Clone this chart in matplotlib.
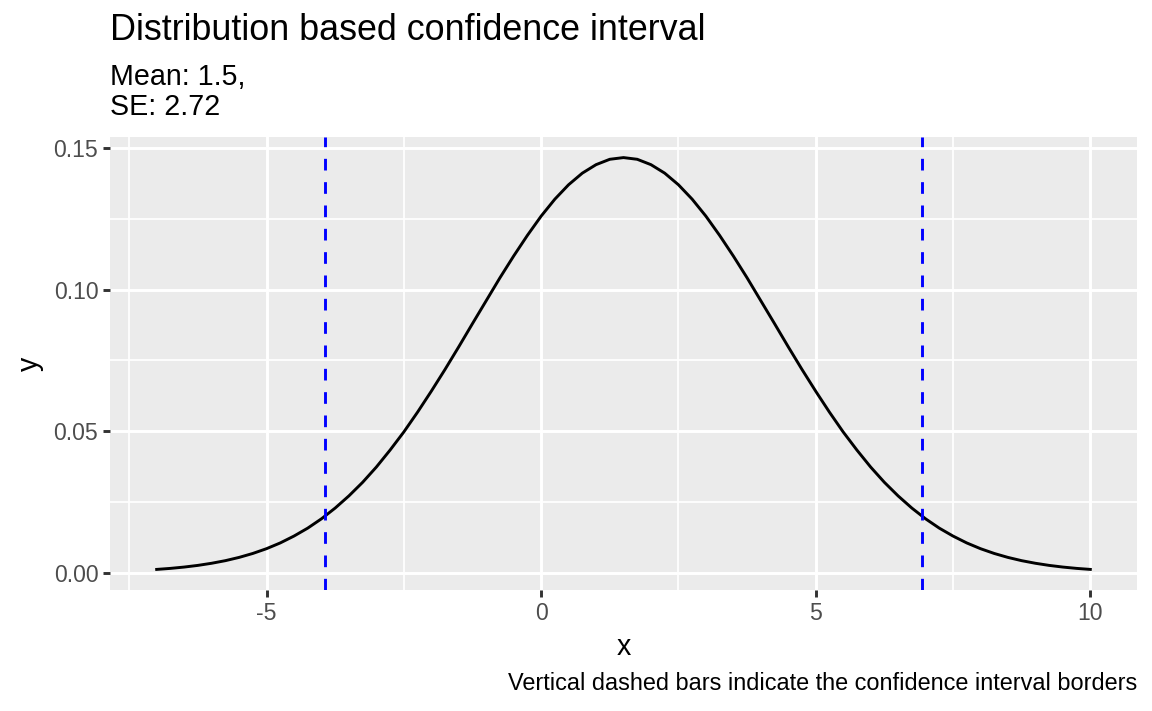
import matplotlib
matplotlib.use('Agg')
import matplotlib.pyplot as plt

x_vals = [-7.0, -6.75, -6.5, -6.25, -6.0, -5.75, -5.5, -5.25, -5.0, -4.75,
          -4.5, -4.25, -4.0, -3.75, -3.5, -3.25, -3.0, -2.75, -2.5, -2.25,
          -2.0, -1.75, -1.5, -1.25, -1.0, -0.75, -0.5, -0.25, 0.0, 0.25,
          0.5, 0.75, 1.0, 1.25, 1.5, 1.75, 2.0, 2.25, 2.5, 2.75,
          3.0, 3.25, 3.5, 3.75, 4.0, 4.25, 4.5, 4.75, 5.0, 5.25,
          5.5, 5.75, 6.0, 6.25, 6.5, 6.75, 7.0, 7.25, 7.5, 7.75,
          8.0, 8.25, 8.5, 8.75, 9.0, 9.25, 9.5, 9.75, 10.0]
y_left = [0.00111, 0.00147, 0.00194, 0.00253, 0.00328, 0.00420, 0.00535, 0.00675,
          0.00844, 0.01047, 0.0129, 0.0157, 0.0190, 0.0228, 0.0271, 0.0319,
          0.0373, 0.0433, 0.0497, 0.0567, 0.0641, 0.0718, 0.0798, 0.0880,
          0.0961, 0.1042, 0.1119, 0.1192, 0.1260, 0.1320, 0.1371, 0.1412,
          0.1442, 0.1461]
y_peak = 0.1467
y_vals = y_left + [y_peak] + y_left[::-1]
ci_lower = -3.94
ci_upper = 6.94

title = 'Distribution based confidence interval'
subtitle_lines = ['Mean: 1.5,', 'SE: 2.72']
caption = 'Vertical dashed bars indicate the confidence interval borders'

x_ticks = [-5, 0, 5, 10]
x_labels = ['-5', '0', '5', '10']
x_minor = [-7.5, -2.5, 2.5, 7.5]
y_ticks = [0.0, 0.05, 0.10, 0.15]
y_labels = ['0.00', '0.05', '0.10', '0.15']
y_minor = [0.025, 0.075, 0.125]

plt.rcParams['font.family'] = ['Liberation Sans', 'DejaVu Sans']

W, H = 1152, 711
fig = plt.figure(figsize=(W / 100, H / 100), dpi=100)
ax = fig.add_axes([110 / W, 1 - 590 / H, (1137 - 110) / W, (590 - 137) / H])
ax.set_facecolor('#EBEBEB')
for sp in ax.spines.values():
    sp.set_visible(False)

lw = 2.1
for v in x_minor:
    ax.axvline(v, color='white', lw=lw * 0.6, zorder=1)
for v in y_minor:
    ax.axhline(v, color='white', lw=lw * 0.6, zorder=1)
for v in x_ticks:
    ax.axvline(v, color='white', lw=lw, zorder=1)
for v in y_ticks:
    ax.axhline(v, color='white', lw=lw, zorder=1)

ax.plot(x_vals, y_vals, color='black', lw=lw, zorder=3)
for v in [ci_lower, ci_upper]:
    ax.axvline(v, color='#0000FF', lw=lw, dashes=(4, 4), zorder=4)

xr = max(x_vals) - min(x_vals)
ax.set_xlim(min(x_vals) - 0.05 * xr, max(x_vals) + 0.05 * xr)
yr = max(y_vals) - min(y_vals)
ax.set_ylim(min(y_vals) - 0.05 * yr, max(y_vals) + 0.05 * yr)

ax.set_xticks(x_ticks)
ax.set_xticklabels(x_labels)
ax.set_yticks(y_ticks)
ax.set_yticklabels(y_labels)
ax.tick_params(axis='both', length=4.95, width=lw, color='#333333',
               labelcolor='#4D4D4D', labelsize=16.6, pad=3.5)

ax.set_xlabel('x', fontsize=20.6, labelpad=6)
ax.set_ylabel('y', fontsize=20.6, labelpad=7)

fig.text(110 / W, 1 - 40 / H, title, fontsize=25.8, va='baseline', ha='left')
fig.text(110 / W, 1 - 85 / H, subtitle_lines[0], fontsize=20.6, va='baseline', ha='left')
fig.text(110 / W, 1 - 115 / H, subtitle_lines[1], fontsize=20.6, va='baseline', ha='left')
fig.text(1137 / W, 1 - 690 / H, caption, fontsize=16.9, va='baseline', ha='right')

fig.savefig('out.png', dpi=100)
